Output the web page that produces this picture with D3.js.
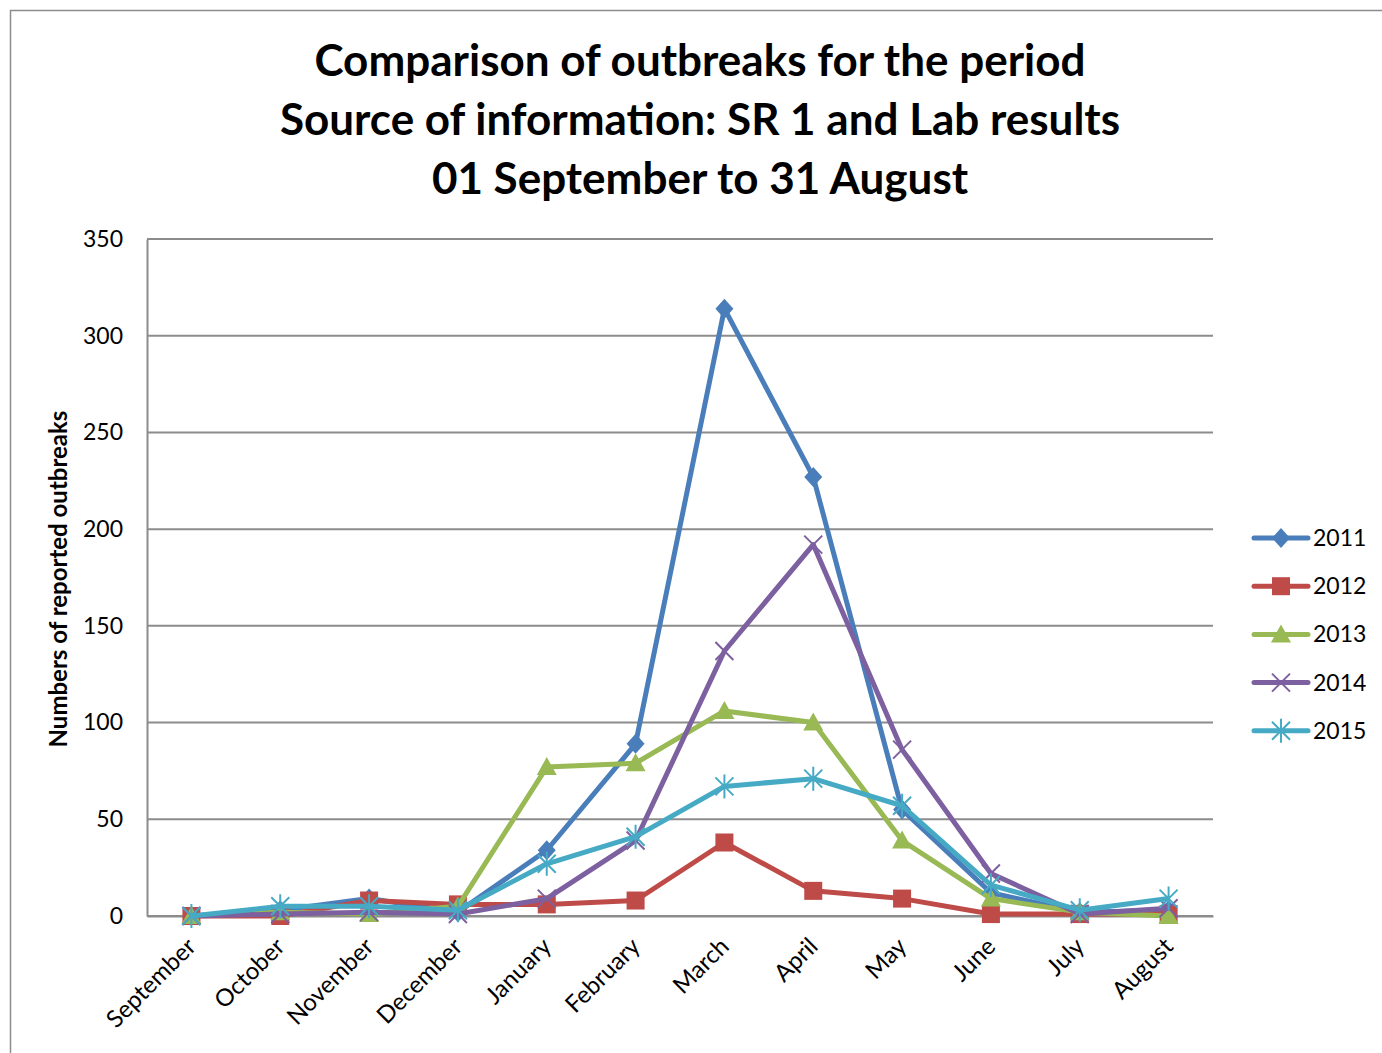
<!DOCTYPE html>
<html>
<head>
<meta charset="utf-8">
<script src="https://cdn.jsdelivr.net/npm/d3@7"></script>
<style>
  body { margin: 0; background: #fff; }
  text { font-family: Lato, "Open Sans", sans-serif; }
</style>
</head>
<body>
<div id="chart"></div>
<script>
const months = ["September", "October", "November", "December", "January", "February",
                "March", "April", "May", "June", "July", "August"];
const years = ["2011", "2012", "2013", "2014", "2015"];
const v2011 = [0, 3, 9, 2, 34, 89, 314, 227, 55, 12, 2, 3];
const v2012 = [0, 0, 8, 6, 6, 8, 38, 13, 9, 1, 1, 1];
const v2013 = [0, 2, 1, 5, 77, 79, 106, 100, 39, 9, 2, 0];
const v2014 = [0, 1, 2, 1, 9, 39, 137, 192, 86, 22, 1, 4];
const v2015 = [0, 5, 5, 3, 27, 41, 67, 71, 57, 16, 3, 9];
const yTicks = [0, 50, 100, 150, 200, 250, 300, 350];
const titleLines = ["Comparison of outbreaks for the period",
                    "Source of information: SR 1 and Lab results",
                    "01 September to 31 August"];

const series = [
    { name: years[0], values: v2011, color: "#4A7EBB", marker: "diamond" },
    { name: years[1], values: v2012, color: "#BE4B48", marker: "square" },
    { name: years[2], values: v2013, color: "#98B954", marker: "triangle" },
    { name: years[3], values: v2014, color: "#7D60A0", marker: "x" },
    { name: years[4], values: v2015, color: "#46AAC5", marker: "star" }
];

const width = 1382, height = 1053;
const margin = { top: 239, right: 169, bottom: 137, left: 147 };

const svg = d3.select("#chart").append("svg")
    .attr("width", width)
    .attr("height", height);

// outer chart border
svg.append("rect")
    .attr("x", 10.5).attr("y", 10.5)
    .attr("width", width + 20).attr("height", height + 20)
    .attr("fill", "none").attr("stroke", "#8c8c8c").attr("stroke-width", 1.5);

const x = d3.scaleBand()
    .domain(months)
    .range([margin.left, width - margin.right]);

const y = d3.scaleLinear()
    .domain([0, 350])
    .range([height - margin.bottom, margin.top]);

const cx = d => x(d) + x.bandwidth() / 2;

// gridlines
svg.append("g")
    .selectAll("line")
    .data(yTicks)
    .join("line")
    .attr("x1", margin.left).attr("x2", width - margin.right)
    .attr("y1", d => y(d)).attr("y2", d => y(d))
    .attr("stroke", "#8c8c8c").attr("stroke-width", 2);

// y axis
const yAxis = d3.axisLeft(y).tickValues(yTicks).tickSize(0).tickPadding(24);
svg.append("g")
    .attr("transform", `translate(${margin.left},0)`)
    .call(yAxis)
    .call(g => g.select(".domain").attr("stroke", "#8c8c8c").attr("stroke-width", 2))
    .call(g => g.selectAll("text").style("font-size", "23px").attr("fill", "#000")
        .style("font-family", "Lato, sans-serif"));

// x axis
const xAxis = d3.axisBottom(x).tickSize(0).tickPadding(0);
svg.append("g")
    .attr("transform", `translate(0,${height - margin.bottom})`)
    .call(xAxis)
    .call(g => g.select(".domain").attr("stroke", "#8c8c8c").attr("stroke-width", 2))
    .call(g => g.selectAll("text")
        .style("font-size", "24px").attr("fill", "#000")
        .style("font-family", "Lato, sans-serif")
        .attr("text-anchor", "end")
        .attr("dy", 0)
        .attr("transform", "translate(6,32) rotate(-45)"));

// title
svg.append("g")
    .selectAll("text")
    .data(titleLines)
    .join("text")
    .attr("x", 700)
    .attr("y", (d, i) => 76 + i * 59)
    .attr("text-anchor", "middle")
    .style("font-size", "44px")
    .style("font-weight", "bold")
    .text(d => d);

// y label
svg.append("text")
    .attr("transform", "translate(67,579) rotate(-90)")
    .attr("text-anchor", "middle")
    .style("font-size", "24px")
    .style("font-weight", "bold")
    .text("Numbers of reported outbreaks");

function drawMarker(g, type, color) {
    if (type === "diamond") {
        g.append("path").attr("d", "M0,-10L9,0L0,10L-9,0Z").attr("fill", color);
    } else if (type === "square") {
        g.append("rect").attr("x", -9).attr("y", -9).attr("width", 18).attr("height", 18).attr("fill", color);
    } else if (type === "triangle") {
        g.append("path").attr("d", "M0,-10L10,8L-10,8Z").attr("fill", color);
    } else if (type === "x") {
        g.append("path").attr("d", "M-9,-9L9,9M-9,9L9,-9").attr("stroke", color).attr("stroke-width", 2);
    } else if (type === "star") {
        g.append("path").attr("d", "M-9,-9L9,9M-9,9L9,-9M0,-12L0,12").attr("stroke", color).attr("stroke-width", 2);
    }
}

const line = d3.line()
    .x((d, i) => cx(months[i]))
    .y(d => y(d));

series.forEach(s => {
    svg.append("path")
        .datum(s.values)
        .attr("d", line)
        .attr("fill", "none")
        .attr("stroke", s.color)
        .attr("stroke-width", 5)
        .attr("stroke-linejoin", "round");

    svg.append("g")
        .selectAll("g")
        .data(s.values)
        .join("g")
        .attr("transform", (d, i) => `translate(${cx(months[i])},${y(d)})`)
        .each(function() { drawMarker(d3.select(this), s.marker, s.color); });
});

// legend
const legend = svg.append("g").attr("transform", "translate(1254,538)");
series.forEach((s, i) => {
    const row = legend.append("g").attr("transform", `translate(0,${i * 48.2})`);
    row.append("line")
        .attr("x1", 0).attr("x2", 54)
        .attr("stroke", s.color).attr("stroke-width", 5).attr("stroke-linecap", "round");
    drawMarker(row.append("g").attr("transform", "translate(27,0)"), s.marker, s.color);
    row.append("text")
        .attr("x", 59).attr("y", 8)
        .style("font-size", "23px")
        .text(s.name);
});
</script>
</body>
</html>
